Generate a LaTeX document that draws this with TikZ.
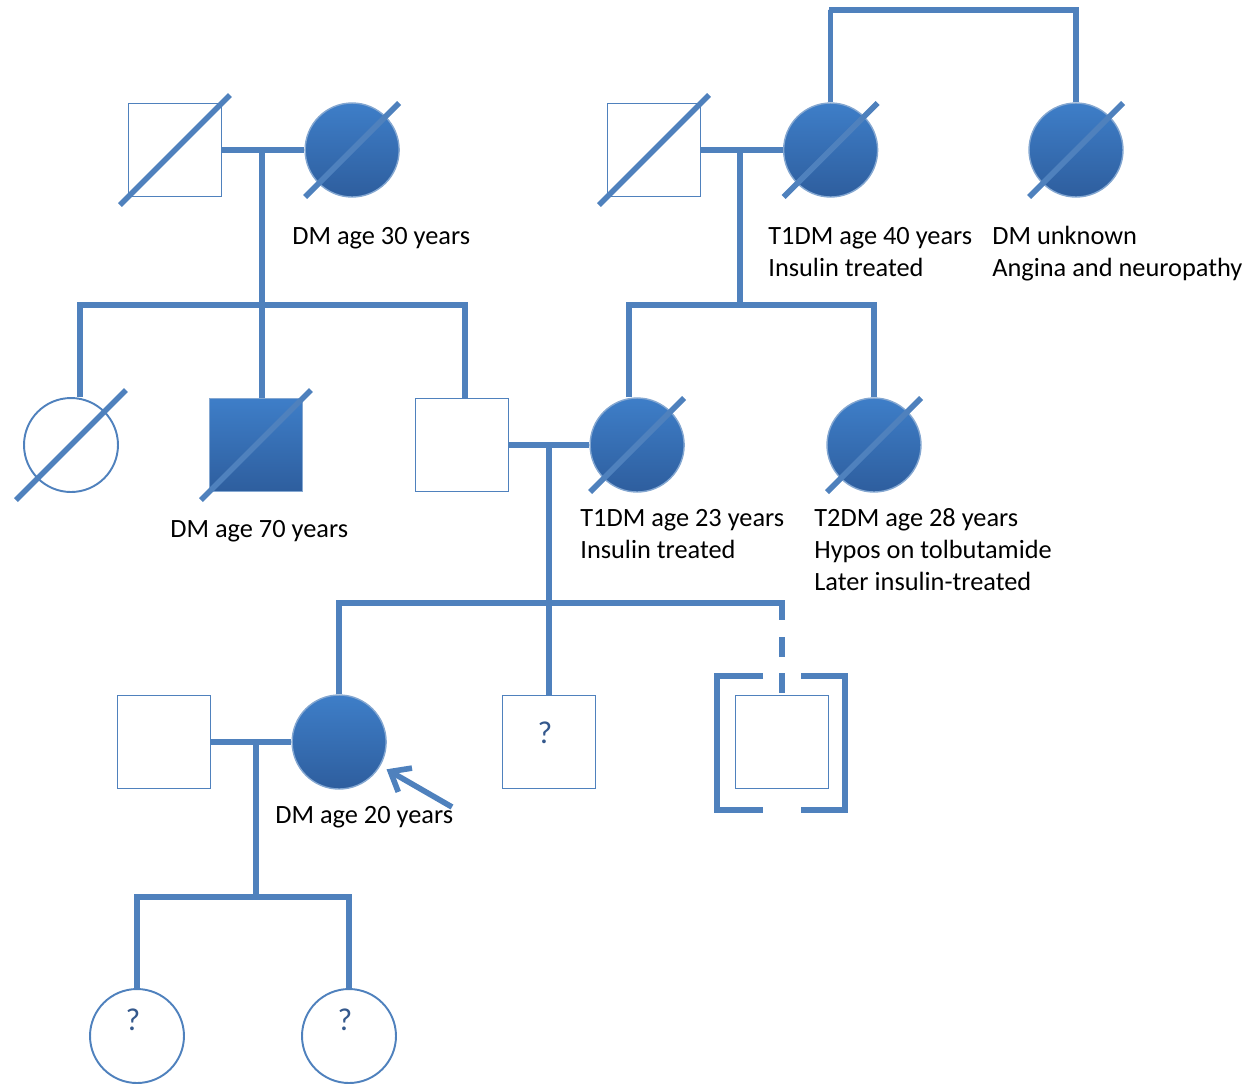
\documentclass[tikz,border=0pt]{standalone}
\usepackage{fontspec}
\setmainfont{Carlito}
\usepackage{xcolor}
\usepackage{tikz}
\usetikzlibrary{
    positioning,
    arrows.meta
}
\definecolor{pedblue}{RGB}{79,129,189}
\definecolor{pedtop}{RGB}{62,126,200}
\definecolor{pedbottom}{RGB}{46,94,158}
\definecolor{pedq}{RGB}{52,88,140}
\tikzset{
    male/.style={
        rectangle, draw=pedblue, line width=1.1pt, fill=white,
        minimum size=1.86cm, inner sep=0pt
    },
    female/.style={
        circle, draw=pedblue, line width=1.1pt, fill=white,
        minimum size=1.88cm, inner sep=0pt
    },
    affected/.style={
        top color=pedtop, bottom color=pedbottom,
        draw=pedblue!70!white, line width=0.8pt
    },
    link/.style={
        draw=pedblue, line width=3.2pt
    },
    slash/.style={
        draw=pedblue, line width=3.2pt
    },
    note/.style={
        font=\fontsize{15}{18.2}\selectfont, align=left,
        inner sep=0pt, anchor=base west
    }
}
% deceased mark across a symbol
\newcommand{\deceased}[2]{\draw[slash] ([shift={(-#2,#2)}]#1.center) -- ([shift={(#2,-#2)}]#1.center);}

\begin{document}
\begin{tikzpicture}[
    x=0.02cm, y=-0.02cm,
    qmark/.style={label={[font=\fontsize{18}{20}\selectfont, text=pedq, xshift=-0.08cm, yshift=#1]center:?}},
    dashes/.style={dash pattern=on 0.4cm off 0.32cm},
    proband/.style={link, -{Straight Barb[length=0.34cm, width=0.55cm]}, shorten >=0.14cm}
]
    \useasboundingbox (0,0) rectangle (1250,1083);

    % --- GENERATION I ---
    \node[male] (A) at (175,150) {};
    \node[female, affected, right=1.64cm of A] (B) {};
    \node[male] (C) at (654,150) {};
    \node[female, affected, right=1.63cm of C] (D) {};
    \node[female, affected] (E) at (1076,150) {};

    % --- GENERATION II ---
    \node[female] (F) at (71,445) {};
    \node[male, affected] (G) at (256,445) {};
    \node[male] (H) at (462,445) {};
    \node[female, affected, right=1.6cm of H] (I) {};
    \node[female, affected] (J) at (874,445) {};

    % --- GENERATION III ---
    \node[male] (N) at (164,742) {};
    \node[female, affected, right=1.6cm of N] (K) {};
    \node[male, qmark=0.18cm] (L) at (549,742) {};
    \node[male] (M) at (782,742) {};

    % --- GENERATION IV ---
    \node[female, qmark=0.32cm] (O) at (137,1036) {};
    \node[female, qmark=0.32cm] (P) at (349,1036) {};

    % --- LINES OF DESCENT ---
    \coordinate (m1) at (262,150);
    \coordinate (s1) at (262,305);
    \coordinate (m2) at (740,150);
    \coordinate (s2) at (740,305);
    \coordinate (tw) at (829,10);
    \coordinate (m3) at (549,445);
    \coordinate (s3) at (549,603);
    \coordinate (m4) at (256,742);
    \coordinate (s4) at (256,897);

    \draw[link] (A.east) -- (B.west);
    \draw[link] (m1) -- (m1 |- G.north);
    \draw[link] ([xshift=0.18cm]F.north) |- (s1) -| ([xshift=0.06cm]H.north);

    \draw[link] (C.east) -- (D.west);
    \draw[link] (m2) -- (s2);
    \draw[link] ([xshift=-0.16cm]I.north) |- (s2) -| (J.north);
    \draw[link] (D.north) |- (tw) -| (E.north);

    \draw[link] (H.east) -- (I.west);
    \draw[link] (m3) -- (s3) -- (L.north);
    \coordinate (dtop) at (s3 -| M.north);
    \draw[link] (K.north) |- (dtop) -- ++(0,17);
    \draw[link, dashes] ([yshift=-0.68cm]dtop) -- (M.north);

    \draw[link] (N.east) -- (K.west);
    \draw[link] (m4) -- (s4);
    \draw[link] (O.north) |- (s4) -| (P.north);

    % --- BRACKETS (adopted) ---
    \draw[link] ([shift={(-19,-66)}]M.center) -| ([shift={(-65,68)}]M.center) -- ([shift={(-19,68)}]M.center);
    \draw[link] ([shift={(19,-66)}]M.center) -| ([shift={(63,68)}]M.center) -- ([shift={(19,68)}]M.center);

    % --- DECEASED ---
    \deceased{A}{55}
    \deceased{B}{47}
    \deceased{C}{55}
    \deceased{D}{47}
    \deceased{E}{47}
    \deceased{F}{55}
    \deceased{G}{55}
    \deceased{I}{47}
    \deceased{J}{47}

    % --- PROBAND ---
    \coordinate (ptail) at (452,807);
    \draw[proband] (ptail) -- (K);

    % --- NOTES (base = last line) ---
    \node[note] (nB) at (292,244) {DM age 30 years};
    \node[note] (nD) at (768,276) {T1DM age 40 years\\Insulin treated};
    \node[note] (nE) at (992,276) {DM unknown\\Angina and neuropathy};
    \node[note] (nG) at (170,537) {DM age 70 years};
    \node[note] (nI) at (580,558) {T1DM age 23 years\\Insulin treated};
    \node[note] (nJ) at (814,590) {T2DM age 28 years\\Hypos on tolbutamide\\Later insulin-treated};
    \node[note] (nK) at (275,823) {DM age 20 years};

\end{tikzpicture}
\end{document}
